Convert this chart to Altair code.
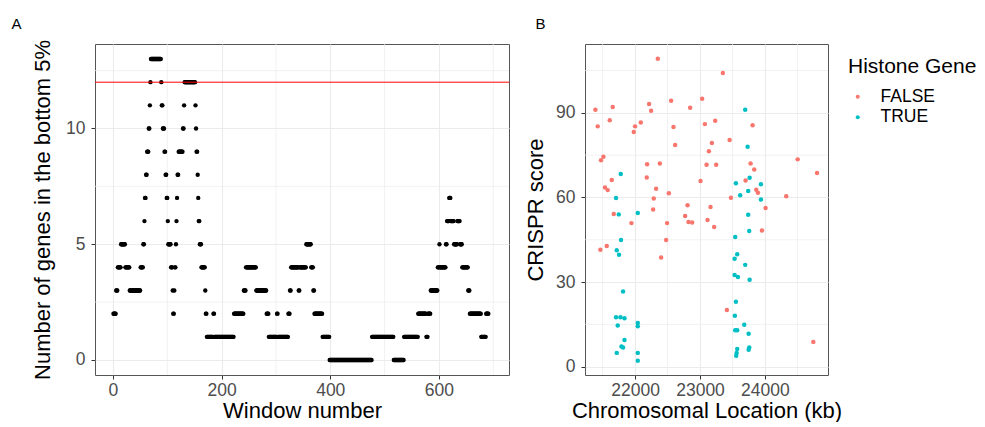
import altair as alt
import numpy as np
import pandas as pd

FONT = "Liberation Sans"

# ---------------- Panel A data (run-length encoded per window) ----------------
first_window = 1
run_values = [2, 3, 4, 5, 4, 3, 4, 5, 6, 7,
              8, 9, 10, 11, 12, 13, 12, 11, 10, 9,
              8, 7, 6, 5, 4, 3, 2, 3, 4, 5,
              6, 7, 8, 9, 10, 11, 12, 11, 10, 9,
              8, 7, 6, 5, 4, 3, 2, 1, 2, 1,
              2, 3, 4, 3, 2, 1, 2, 1, 2, 3,
              4, 3, 4, 5, 4, 3, 2, 1, 0, 1,
              0, 1, 2, 1, 2, 3, 4, 5, 4, 5,
              6, 7, 6, 5, 6, 5, 4, 3, 2, 1,
              2]
run_lengths = [5, 3, 6, 8, 8, 20, 5, 2, 1, 2,
               2, 3, 2, 1, 1, 19, 1, 2, 3, 2,
               2, 2, 1, 5, 3, 1, 2, 1, 2, 1,
               1, 1, 2, 8, 2, 1, 20, 1, 1, 2,
               1, 1, 2, 3, 7, 1, 2, 12, 2, 36,
               18, 4, 19, 19, 4, 15, 2, 19, 3, 2,
               14, 2, 12, 9, 4, 2, 15, 13, 78, 40,
               19, 26, 15, 3, 5, 13, 3, 1, 11, 2,
               4, 3, 6, 6, 5, 4, 11, 3, 21, 9,
               5]
threshold = 12

# ---------------- Panel B data ----------------
false_loc = [22350, 21389, 21656, 21610, 21425, 22216, 22247, 22088, 22000, 21980,
             22555, 22592, 22617, 21513, 21476, 22185, 22381, 22180, 21641, 21537,
             21579, 22324, 22288, 22520, 21672, 22278, 21944, 22493, 21466, 21564,
             22478, 22401, 23352, 23033, 22848, 23075, 23234, 23810, 23183, 23137,
             23456, 23101, 23249, 23779, 23835, 24504, 24802, 23008, 23702, 23866,
             23892, 23476, 24328, 22808, 23162, 24010, 22771, 22823, 22879, 23116,
             23218, 23954, 23414, 24745]
false_score = [109.2, 91.1, 92.1, 87.4, 85.2, 93.1, 90.7, 86.6, 85.2, 83.2,
               94.3, 85.0, 78.6, 74.4, 73.2, 71.8, 72.0, 67.1, 66.2, 63.5,
               62.6, 63.1, 59.6, 61.5, 54.1, 55.7, 50.9, 50.9, 41.5, 42.8,
               44.9, 38.7, 104.1, 95.0, 91.8, 86.0, 87.2, 85.6, 79.3, 76.4,
               80.4, 71.6, 71.6, 72.0, 69.9, 73.5, 68.7, 65.8, 66.0, 62.7,
               61.7, 59.9, 60.4, 57.2, 56.6, 56.3, 53.4, 51.3, 51.1, 52.0,
               49.5, 48.3, 20.1, 8.8]
true_loc = [21780, 21707, 21749, 22042, 21784, 21718, 21753, 21815, 21707, 21775,
            21837, 21733, 22042, 22042, 21837, 21790, 21815, 21718, 22042, 22042,
            23696, 23733, 23764, 23553, 23938, 23619, 23742, 23938, 23742, 23758,
            23542, 23573, 23533, 23696, 23533, 23584, 23764, 23553, 23537, 23681,
            23542, 23573, 23749, 23573, 23758, 23749, 23564, 23557]
true_score = [68.3, 59.8, 54.0, 54.5, 44.9, 41.3, 39.7, 26.7, 17.5, 17.5,
              17.2, 14.6, 15.5, 14.3, 9.5, 7.2, 6.8, 4.9, 4.9, 2.1,
              91.1, 78.0, 67.0, 65.0, 64.7, 60.8, 62.3, 59.3, 53.9, 48.1,
              46.0, 39.9, 38.3, 36.1, 32.5, 31.8, 30.8, 23.0, 18.1, 14.9,
              12.9, 12.9, 11.7, 6.3, 6.8, 6.0, 4.9, 3.9]
histone_levels = ["FALSE", "TRUE"]
histone_colors = ["#F8766D", "#00BFC4"]

# minor grid positions (ggplot-style minor breaks)
minorA_x = [100, 300, 500, 700]
minorA_y = [2.5, 7.5, 12.5]
minorB_x = [21500, 22500, 23500, 24500]
minorB_y = [15, 45, 75, 105]

# ---------------- tables ----------------
counts = np.repeat(run_values, run_lengths)
dfA = pd.DataFrame({"window": np.arange(first_window, first_window + len(counts)),
                    "count": counts})
dfB = pd.concat([
    pd.DataFrame({"loc": false_loc, "score": false_score, "Histone Gene": "FALSE"}),
    pd.DataFrame({"loc": true_loc, "score": true_score, "Histone Gene": "TRUE"}),
], ignore_index=True)

GRID = "#EBEBEB"

# ---------------- Panel A ----------------
scA_x = alt.Scale(domain=[-33, 729], nice=False, zero=False)
scA_y = alt.Scale(domain=[-0.65, 13.65], nice=False, zero=False)
axA_x = alt.Axis(values=[0, 200, 400, 600], title="Window number")
axA_y = alt.Axis(values=[0, 5, 10], title="Number of genes in the bottom 5%",
                 titlePadding=11)

gA_x = alt.Chart(pd.DataFrame({"window": minorA_x})).mark_rule(
    color=GRID, strokeWidth=0.7).encode(x=alt.X("window:Q", scale=scA_x, axis=axA_x))
gA_y = alt.Chart(pd.DataFrame({"count": minorA_y})).mark_rule(
    color=GRID, strokeWidth=0.7).encode(y=alt.Y("count:Q", scale=scA_y, axis=axA_y))
ptsA = alt.Chart(dfA).mark_circle(size=19, color="black", opacity=1).encode(
    x=alt.X("window:Q", scale=scA_x, axis=axA_x),
    y=alt.Y("count:Q", scale=scA_y, axis=axA_y),
)
ruleA = alt.Chart(pd.DataFrame({"count": [threshold]})).mark_rule(
    color="#FF0000", strokeWidth=1).encode(y=alt.Y("count:Q", scale=scA_y, axis=axA_y))

panelA = alt.layer(gA_x, gA_y, ptsA, ruleA).properties(
    width=414, height=331,
    title=alt.Title("A", anchor="start", frame="bounds", fontSize=15,
                    fontWeight="normal", font=FONT, color="black", dx=-20,
                    offset=7.5),
)

# ---------------- Panel B ----------------
scB_x = alt.Scale(domain=[21229, 24971], nice=False, zero=False)
scB_y = alt.Scale(domain=[-2.94, 114.4], nice=False, zero=False)
axB_x = alt.Axis(values=[22000, 23000, 24000], format="d",
                 title="Chromosomal Location (kb)")
axB_y = alt.Axis(values=[0, 30, 60, 90], title="CRISPR score")

gB_x = alt.Chart(pd.DataFrame({"loc": minorB_x})).mark_rule(
    color=GRID, strokeWidth=0.7).encode(x=alt.X("loc:Q", scale=scB_x, axis=axB_x))
gB_y = alt.Chart(pd.DataFrame({"score": minorB_y})).mark_rule(
    color=GRID, strokeWidth=0.7).encode(y=alt.Y("score:Q", scale=scB_y, axis=axB_y))
ptsB = alt.Chart(dfB).mark_circle(size=20, opacity=1).encode(
    x=alt.X("loc:Q", scale=scB_x, axis=axB_x),
    y=alt.Y("score:Q", scale=scB_y, axis=axB_y),
    color=alt.Color("Histone Gene:N",
                    scale=alt.Scale(domain=histone_levels, range=histone_colors),
                    legend=alt.Legend(title="Histone Gene", symbolType="circle",
                                      orient="none", legendX=753, legendY=12,
                                      symbolSize=16, padding=0, symbolOffset=1,
                                      titleFontSize=21, labelFontSize=17.5,
                                      titleFont=FONT, labelFont=FONT,
                                      titleFontWeight="normal", titleColor="black",
                                      labelColor="black", rowPadding=1.5,
                                      titlePadding=11, labelOffset=14)),
)
panelB = alt.layer(gB_x, gB_y, ptsB).properties(
    width=243, height=331,
    title=alt.Title("B", anchor="start", frame="bounds", fontSize=15,
                    fontWeight="normal", font=FONT, color="black", dx=11,
                    offset=12),
)

chart = alt.hconcat(panelA, panelB, spacing=14).properties(
    padding={"left": 3, "top": 8, "right": 0, "bottom": 0}
).configure_view(
    stroke="#555555", strokeWidth=1
).configure_axis(
    labelFont=FONT, labelFontSize=17.5, labelColor="#4D4D4D",
    titleFont=FONT, titleFontSize=22, titleColor="black", titleFontWeight="normal",
    tickColor="#333333", tickSize=4, tickWidth=1,
    domain=False, grid=True, gridColor=GRID, gridWidth=1.1,
).configure_axisY(titlePadding=8, labelPadding=6
).configure_axisX(titlePadding=2, labelPadding=2)

chart.save("out.html", embed_options={"renderer": "svg", "actions": False})
